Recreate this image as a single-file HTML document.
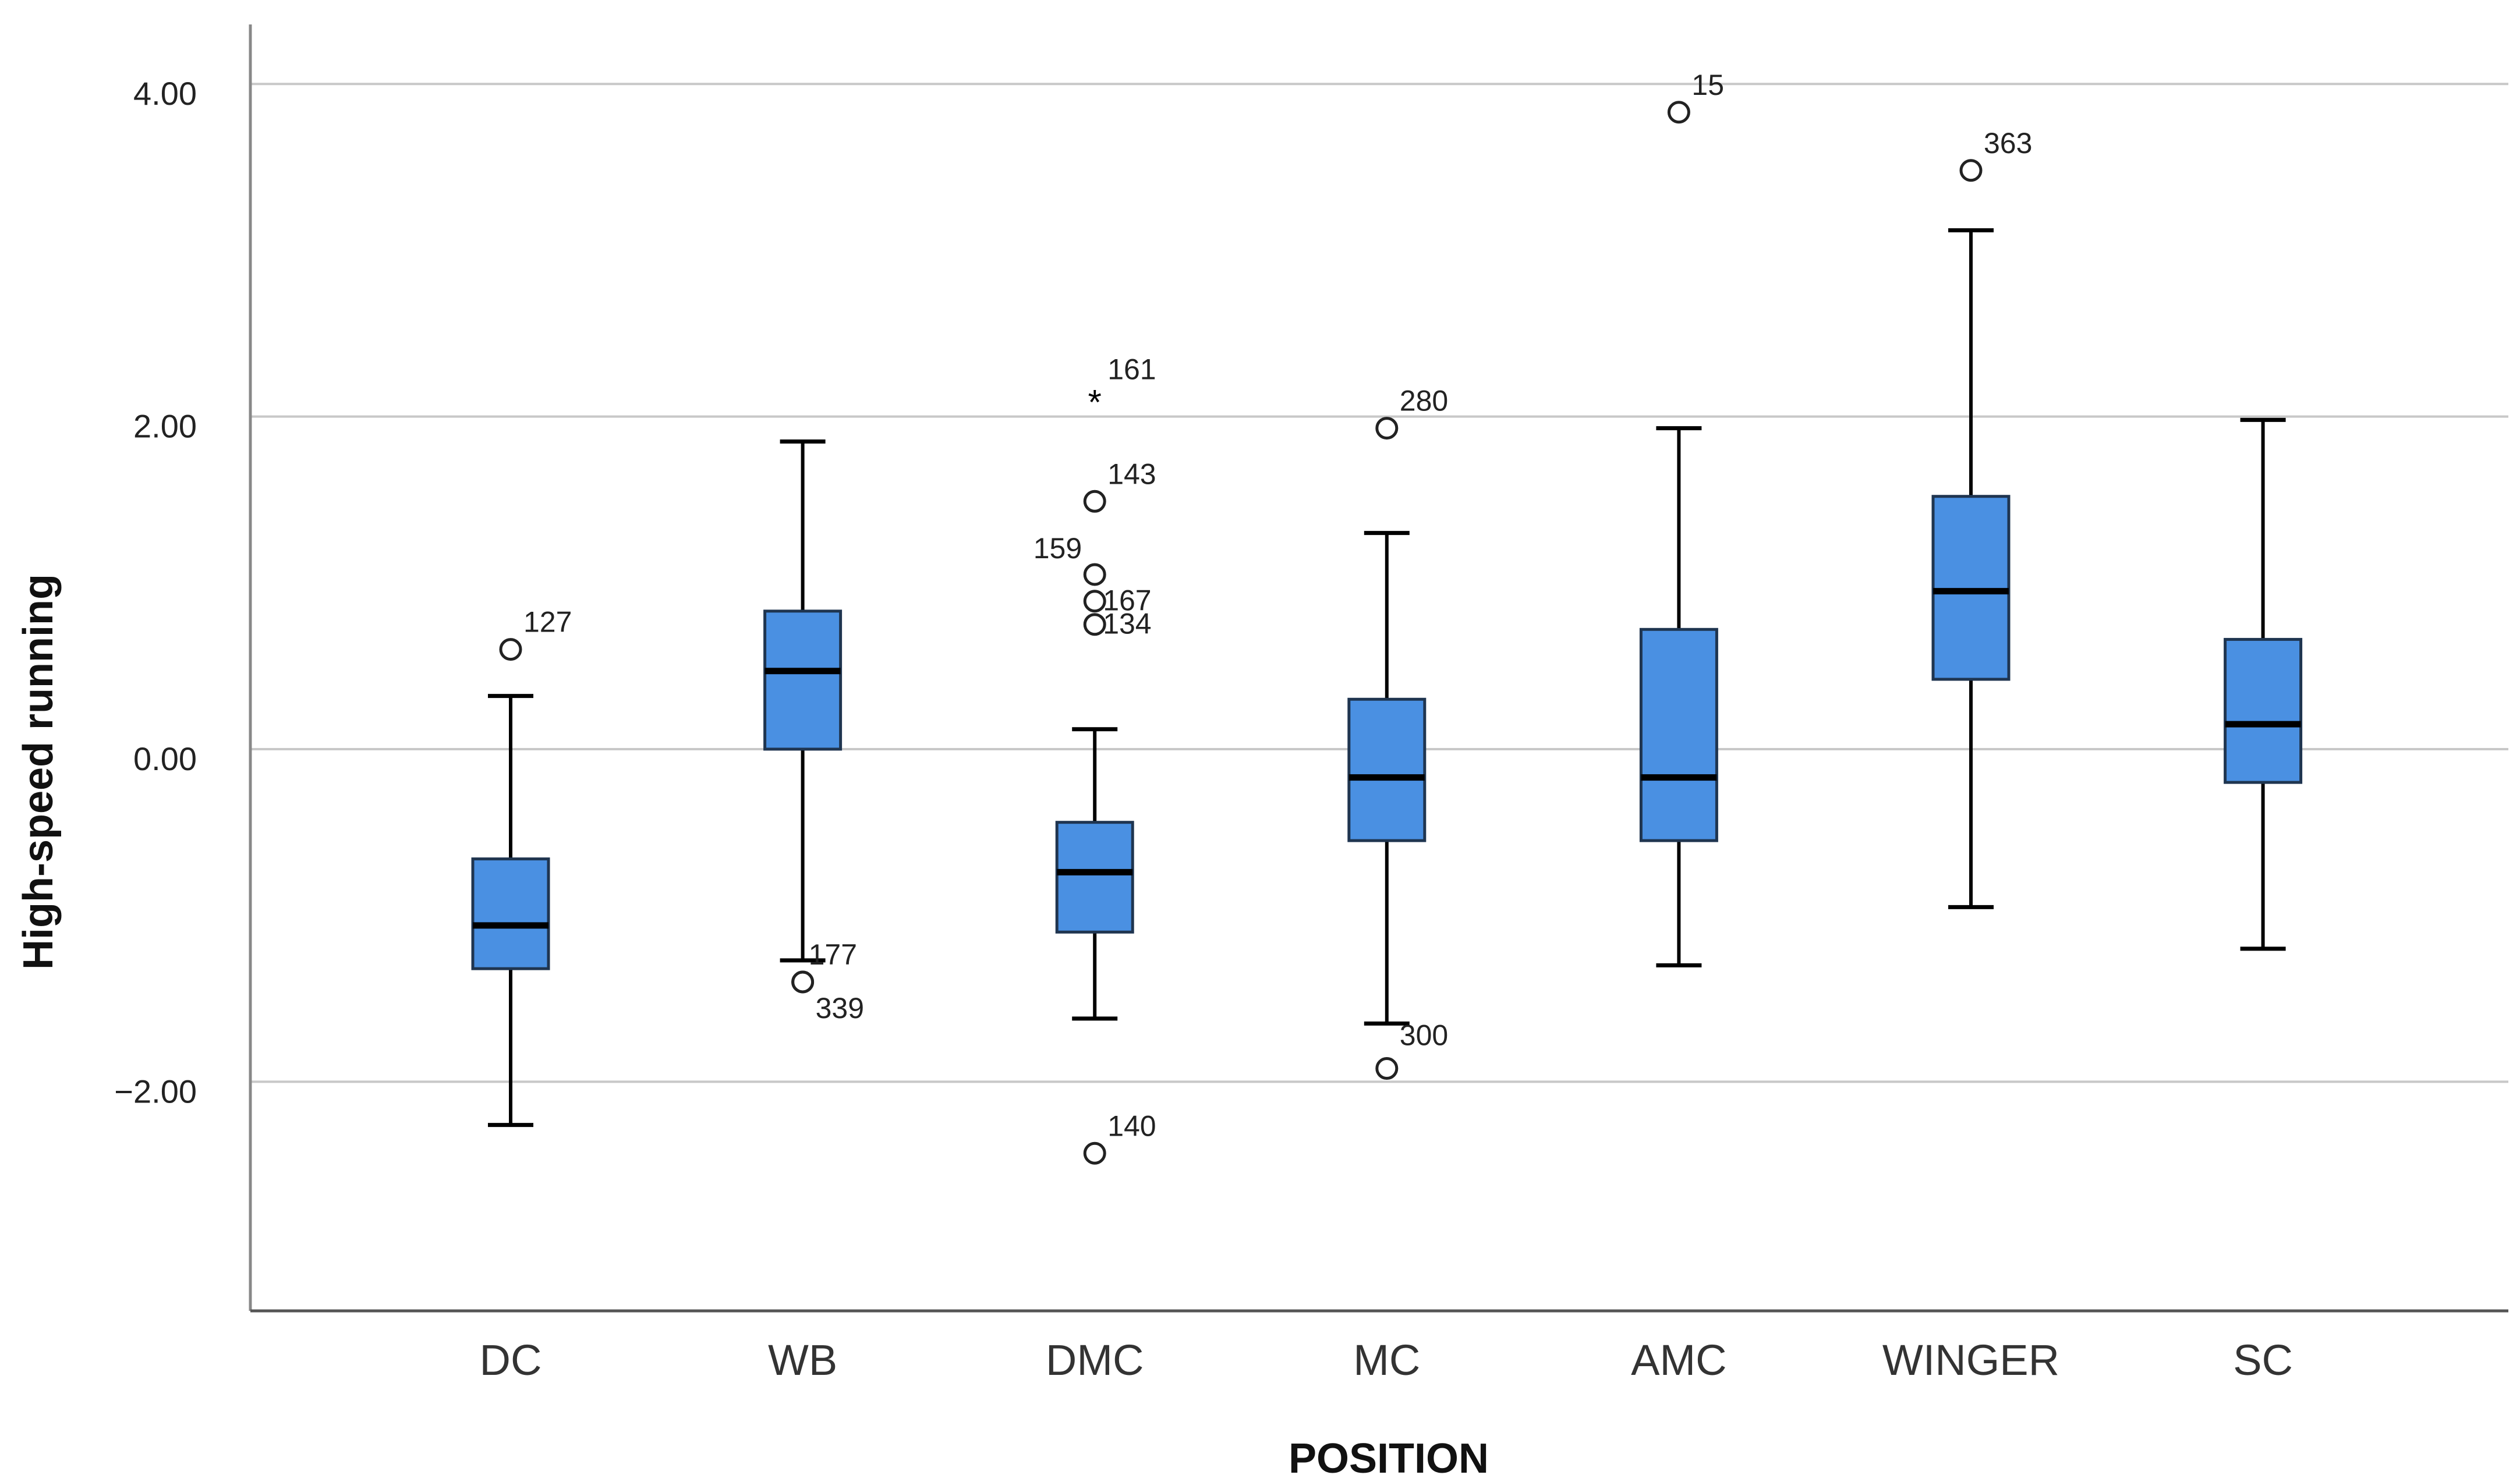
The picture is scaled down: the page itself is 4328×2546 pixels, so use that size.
<!DOCTYPE html>
<html><head><meta charset="utf-8"><style>
html,body{margin:0;padding:0;background:#fff;}
svg{display:block;font-family:"Liberation Sans",Arial,sans-serif;}
</style></head><body>
<svg id="chart" width="4328" height="2546" viewBox="0 0 4328 2546" xmlns="http://www.w3.org/2000/svg">
<rect width="4328" height="2546" fill="#fff"/>
<g id="grid"></g>
<g id="boxes"></g>
<line x1="430" y1="42" x2="430" y2="2252" stroke="#888" stroke-width="5"/>
<line x1="430" y1="2252" x2="4308" y2="2252" stroke="#555" stroke-width="5"/>
<text transform="translate(90,1326) rotate(-90)" text-anchor="middle" font-size="72" font-weight="bold" fill="#111">High-speed running</text>
<text x="2385" y="2530" text-anchor="middle" font-size="72" font-weight="bold" fill="#111">POSITION</text>
</svg>
<script>
const categories = ["DC","WB","DMC","MC","AMC","WINGER","SC"];
const whiskerHigh = [0.32, 1.85, 0.12, 1.30, 1.93, 3.12, 1.98];
const q3Values = [-0.66, 0.83, -0.44, 0.30, 0.72, 1.52, 0.66];
const medians = [-1.06, 0.47, -0.74, -0.17, -0.17, 0.95, 0.15];
const q1Values = [-1.32, 0.00, -1.10, -0.55, -0.55, 0.42, -0.20];
const whiskerLow = [-2.26, -1.27, -1.62, -1.65, -1.30, -0.95, -1.20];
const outlierCat = [0, 1, 1, 2, 2, 2, 2, 2, 2, 3, 3, 4, 5];
const outlierVal = [0.60, -1.40, -1.40, 2.12, 1.49, 1.05, 0.89, 0.75, -2.43, 1.93, -1.92, 3.83, 3.48];
const outlierLabel = ["127","177","339","161","143","159","167","134","140","280","300","15","363"];
const outlierExtreme = [false,false,false,true,false,false,false,false,false,false,false,false,false];
const tickValues = [4, 2, 0, -2];
const tickLabels = ["4.00", "2.00", "0.00", "\u22122.00"];

const NS = "http://www.w3.org/2000/svg";
const yScale = v => 1287 - v * 285.7;
const xScale = i => 877 + i * 501.6;
const BW = 130, CAP = 39;
function mk(tag, attrs, parent, txt) {
  const el = document.createElementNS(NS, tag);
  for (const k in attrs) el.setAttribute(k, attrs[k]);
  if (txt !== undefined) el.textContent = txt;
  parent.appendChild(el);
  return el;
}
const grid = document.getElementById("grid");
const boxes = document.getElementById("boxes");
const svg = document.getElementById("chart");
tickValues.forEach((v, i) => {
  const g = mk("line", {x1: 432, x2: 4308, y1: yScale(v), y2: yScale(v), stroke: "#c8c8c8", "stroke-width": 4}, grid);
  
  
  const t = mk("text", {x: 338, y: yScale(v) + 36, "text-anchor": "end", "font-size": 56, fill: "#222"}, svg, tickLabels[i]);
  
  
});
categories.forEach((c, i) => {
  const x = xScale(i);
  const g = mk("g", {}, boxes);
  
  
  mk("line", {x1: x, x2: x, y1: yScale(whiskerHigh[i]), y2: yScale(q3Values[i]), stroke: "#000", "stroke-width": 6}, g);
  mk("line", {x1: x, x2: x, y1: yScale(q1Values[i]), y2: yScale(whiskerLow[i]), stroke: "#000", "stroke-width": 6}, g);
  mk("line", {x1: x - CAP, x2: x + CAP, y1: yScale(whiskerHigh[i]), y2: yScale(whiskerHigh[i]), stroke: "#000", "stroke-width": 7}, g);
  mk("line", {x1: x - CAP, x2: x + CAP, y1: yScale(whiskerLow[i]), y2: yScale(whiskerLow[i]), stroke: "#000", "stroke-width": 7}, g);
  mk("rect", {x: x - BW / 2, y: yScale(q3Values[i]), width: BW, height: yScale(q1Values[i]) - yScale(q3Values[i]), fill: "#4a90e2", stroke: "#1f3550", "stroke-width": 5}, g);
  mk("line", {x1: x - BW / 2, x2: x + BW / 2, y1: yScale(medians[i]), y2: yScale(medians[i]), stroke: "#000", "stroke-width": 11}, g);
  const t = mk("text", {x: x, y: 2362, "text-anchor": "middle", "font-size": 74, fill: "#333"}, svg, c);
  
  
});
outlierVal.forEach((v, k) => {
  const x = xScale(outlierCat[k]), y = yScale(v);
  let m;
  if (outlierExtreme[k]) {
    m = mk("text", {x: x, y: y + 30, "text-anchor": "middle", "font-size": 60, fill: "#000"}, svg, "*");
  } else {
    m = mk("circle", {cx: x, cy: y, r: 17, fill: "none", stroke: "#222", "stroke-width": 5}, svg);
  }
  
  
  let lx = x + 22, ly = y - 30, anchor = "start";
  if (outlierLabel[k] === "339") { ly = y + 62; }
  if (outlierLabel[k] === "159") { lx = x - 22; ly = y - 28; anchor = "end"; }
  if (outlierLabel[k] === "167" || outlierLabel[k] === "134") { lx = x + 14; ly = y + 16; }
  if (outlierLabel[k] === "177") { lx = x + 10; ly = y - 30; }
  if (outlierLabel[k] === "300") { ly = y - 40; }
  const t = mk("text", {x: lx, y: ly, "text-anchor": anchor, "font-size": 50, fill: "#222"}, svg, outlierLabel[k]);
  
  
});
</script>
</body></html>
